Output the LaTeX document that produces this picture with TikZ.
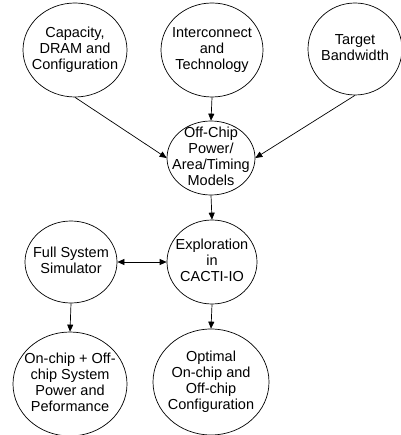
\documentclass[tikz,border=0pt]{standalone}
\usepackage{fontspec}
\setmainfont{Liberation Sans}
\usetikzlibrary{shapes.geometric,arrows.meta}
% text of a bubble, kept out of the size of the ellipse
\newcommand{\bubtext}[1]{\makebox[0pt]{\raisebox{-3.6pt}{\begin{tabular}{@{}c@{}}#1\end{tabular}}}}

\begin{document}
\begin{tikzpicture}[x=1pt,y=-1pt,>={Triangle[length=7pt,width=6pt]},
  bubble/.style={ellipse,draw,line width=0.7pt,inner sep=0pt,text height=0pt,text depth=0pt,font=\fontsize{14.5}{16}\selectfont},
  flow/.style={->,line width=0.7pt}]
\useasboundingbox (0,0) rectangle (400,435);
  \foreach \nm/\px/\py/\bw/\bh/\txt in {
    cap/75/50/104/94/{Capacity,\\DRAM and\\Configuration},
    inter/212/50/102/94/{Interconnect\\and\\Technology},
    tgt/355/49/94/92/{Target\\Bandwidth},
    model/211/158/88/74/{Off-Chip\\Power/\\Area/Timing\\Models},
    explore/212/262/90/84/{Exploration\\in\\CACTI-IO},
    fullsim/71/262/92/82/{Full System\\Simulator},
    result/70/384/114/104/{On-chip + Off-\\chip System\\Power and\\Peformance},
    optimal/211/382/116/106/{Optimal\\On-chip and\\Off-chip\\Configuration}}
  {  \node [bubble,minimum width=\bw,minimum height=\bh] (\nm) at (\px,\py) {\bubtext{\txt}};}
\draw [flow] (cap.south) -- (model.west);
\draw [flow] (inter.south) -- (model.north);
\draw [flow] (tgt.south) -- (model.east);
\draw [flow] (model.south) -- (explore.north);
\draw [flow,<->] (fullsim.east) -- (explore.west);
\draw [flow] (fullsim.south) -- (result.north);
\draw [flow] (explore.south) -- (optimal.north);
\end{tikzpicture}
\end{document}
